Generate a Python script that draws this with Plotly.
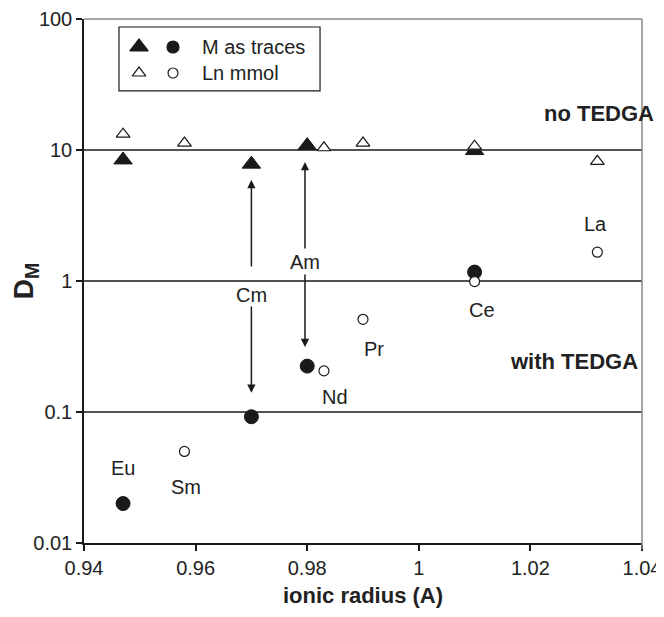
import plotly.graph_objects as go
import math

# ---- data ----
tri_trace_x = [0.947, 0.970, 0.980, 1.010]          # M as traces, no TEDGA (Eu, Cm, Am, Ce)
tri_trace_y = [8.4, 7.8, 10.8, 9.9]
tri_mmol_x = [0.947, 0.958, 0.983, 0.990, 1.010, 1.032]  # Ln mmol, no TEDGA (Eu, Sm, Nd, Pr, Ce, La)
tri_mmol_y = [13.2, 11.3, 10.4, 11.3, 10.7, 8.2]
circ_trace_x = [0.947, 0.970, 0.980, 1.010]          # M as traces, with TEDGA (Eu, Cm, Am, Ce)
circ_trace_y = [0.020, 0.092, 0.224, 1.17]
circ_mmol_x = [0.958, 0.983, 0.990, 1.010, 1.032]    # Ln mmol, with TEDGA (Sm, Nd, Pr, Ce, La)
circ_mmol_y = [0.050, 0.206, 0.51, 0.99, 1.66]

elem_labels = ["Eu", "Sm", "Nd", "Pr", "Ce", "La", "Cm", "Am"]
elem_label_x = [0.947, 0.9583, 0.985, 0.992, 1.0113, 1.0316, 0.970, 0.9796]
elem_label_y = [0.0374, 0.0269, 0.130, 0.303, 0.601, 2.72, 0.782, 1.40]

x_tickvals = [0.94, 0.96, 0.98, 1.0, 1.02, 1.04]
x_ticktext = ["0.94", "0.96", "0.98", "1", "1.02", "1.04"]
y_tickvals = [0.01, 0.1, 1, 10, 100]
y_ticktext = ["0.01", "0.1", "1", "10", "100"]
grid_levels = [0.1, 1, 10]

legend_names = ["M as traces", "Ln mmol"]

# arrows: (x, tail_y, head_y)
arrows = [
    (0.970, 1.256, 5.9),
    (0.970, 0.656, 0.140),
    (0.9796, 1.726, 8.09),
    (0.9796, 1.151, 0.313),
]

FONT = "Liberation Sans, Arial, sans-serif"
DARK = "#1a1a1a"
TXT = "#222222"

X0, X1 = 0.94, 1.04
LY0, LY1 = -2, 2


def px_x(frac):
    return X0 + frac * (X1 - X0)


def px_y(frac):
    return 10 ** (LY0 + frac * (LY1 - LY0))


fig = go.Figure()
fig.add_trace(go.Scatter(x=tri_trace_x, y=tri_trace_y, mode="markers",
                         marker=dict(symbol="triangle-up", size=16, color=DARK,
                                     line=dict(color=DARK, width=1)), showlegend=False))
fig.add_trace(go.Scatter(x=tri_mmol_x, y=tri_mmol_y, mode="markers",
                         marker=dict(symbol="triangle-up", size=12, color="white",
                                     line=dict(color=DARK, width=1.2)), showlegend=False))
fig.add_trace(go.Scatter(x=circ_trace_x, y=circ_trace_y, mode="markers",
                         marker=dict(symbol="circle", size=14, color=DARK,
                                     line=dict(color=DARK, width=1)), showlegend=False))
fig.add_trace(go.Scatter(x=circ_mmol_x, y=circ_mmol_y, mode="markers",
                         marker=dict(symbol="circle", size=10, color="white",
                                     line=dict(color=DARK, width=1.2)), showlegend=False))

# legend glyphs (placed by plot-area fraction)
row1, row2 = 0.9466, 0.8969
col1, col2 = 0.0986, 0.1595
legend_glyphs = [
    (col1, row1, "triangle-up", 16, DARK),
    (col2, row1, "circle", 12, DARK),
    (col1, row2, "triangle-up", 12, "white"),
    (col2, row2, "circle", 10, "white"),
]
for cx, ry, sym, sz, fc in legend_glyphs:
    fig.add_trace(go.Scatter(x=[px_x(cx)], y=[px_y(ry)], mode="markers", opacity=1,
                             marker=dict(symbol=sym, size=sz, color=fc, opacity=1,
                                         line=dict(color=DARK, width=1.2)),
                             showlegend=False, hoverinfo="skip"))

shapes = []
for g in grid_levels:
    shapes.append(dict(type="line", xref="paper", x0=0, x1=1, yref="y",
                       y0=g, y1=g, line=dict(color=DARK, width=1.5), layer="below"))
# top and right borders (gray)
shapes.append(dict(type="line", xref="paper", yref="paper", x0=0, x1=1, y0=1, y1=1,
                   line=dict(color="#888888", width=1.5)))
shapes.append(dict(type="line", xref="paper", yref="paper", x0=1, x1=1, y0=1, y1=-0.012,
                   line=dict(color="#888888", width=1.5)))
# legend box
shapes.append(dict(type="rect", xref="paper", yref="paper", x0=0.0627, x1=0.423,
                   y0=0.863, y1=0.9847, line=dict(color=DARK, width=1.2),
                   fillcolor="white", layer="below"))

annotations = []
for t, x, y in zip(elem_labels, elem_label_x, elem_label_y):
    annotations.append(dict(text=t, x=x, y=math.log10(y), xref="x", yref="y",
                            xanchor="center", yanchor="middle",
                            showarrow=False, font=dict(family=FONT, size=20, color=TXT)))
annotations.append(dict(text="<b>no TEDGA</b>", x=1.0323, y=1.275, xref="x", yref="y",
                        xanchor="center", yanchor="middle",
                        showarrow=False, font=dict(family=FONT, size=22, color=TXT)))
annotations.append(dict(text="<b>with TEDGA</b>", x=1.0278, y=-0.618, xref="x", yref="y",
                        xanchor="center", yanchor="middle",
                        showarrow=False, font=dict(family=FONT, size=22, color=TXT)))
for name, r in zip(legend_names, [row1, row2]):
    annotations.append(dict(text=name, x=0.208, y=r, xref="paper", yref="paper",
                            xanchor="left", yanchor="middle", showarrow=False,
                            font=dict(family=FONT, size=20, color=TXT)))
for x, ty, hy in arrows:
    annotations.append(dict(text="", x=x, y=math.log10(hy), ax=x, ay=math.log10(ty),
                            xref="x", yref="y", axref="x", ayref="y", showarrow=True,
                            arrowhead=2, arrowsize=1.1, arrowwidth=1.5, arrowcolor=DARK))

# page has an 8px body margin, so the figure is 8px smaller and shifted
fig.update_layout(
    width=656, height=609,
    margin=dict(l=76, r=22, t=11, b=74),
    plot_bgcolor="white", paper_bgcolor="white",
    font=dict(family=FONT, size=20, color=TXT),
    xaxis=dict(range=[X0, X1], tickvals=x_tickvals, ticktext=x_ticktext, automargin=False,
               showgrid=False, zeroline=False, showline=True, linecolor=DARK, linewidth=1.5,
               ticks="outside", ticklen=6, tickwidth=1.5, tickcolor=DARK,
               tickfont=dict(family=FONT, size=20, color=TXT),
               title=dict(text="<b>ionic radius (A)</b>", font=dict(family=FONT, size=22, color=TXT),
                          standoff=10)),
    yaxis=dict(type="log", range=[LY0, LY1], tickvals=y_tickvals, ticktext=y_ticktext,
               automargin=False,
               showgrid=False, zeroline=False, showline=True, linecolor=DARK, linewidth=1.5,
               ticks="outside", ticklen=6, tickwidth=1.5, tickcolor=DARK,
               tickfont=dict(family=FONT, size=20, color=TXT),
               title=dict(text="<b>D<sub>M</sub></b>", font=dict(family=FONT, size=28, color=TXT),
                          standoff=4)),
    shapes=shapes, annotations=annotations,
)

fig.write_html("out.html")
